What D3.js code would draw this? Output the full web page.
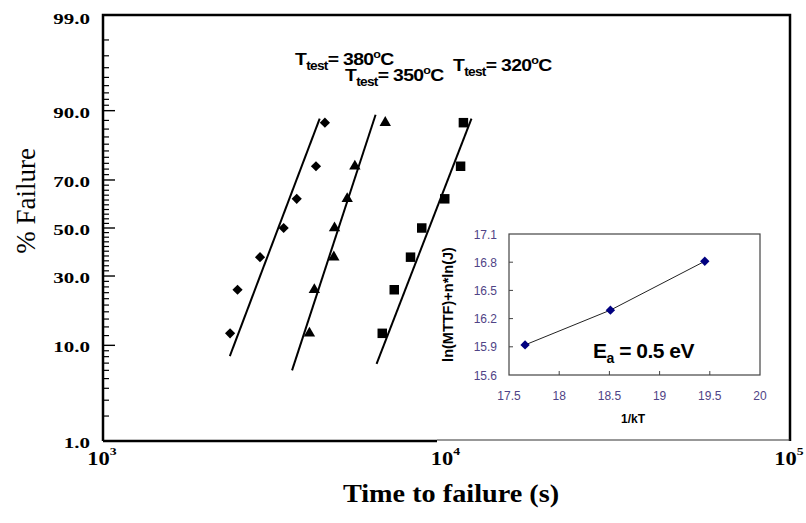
<!DOCTYPE html>
<html>
<head>
<meta charset="utf-8">
<script src="https://cdn.jsdelivr.net/npm/d3@7"></script>
<style>
  body { margin: 0; background: #fff; }
  svg { display: block; }
</style>
</head>
<body>
<div id="chart"></div>
<script>
// ---- main chart data ----
const pctRank = [12.5, 25, 37.5, 50, 62.5, 75, 87.5];
const t380 = [2344, 2464, 2865, 3357, 3664, 4169, 4426];
const t350 = [3990, 4123, 4699, 4721, 5140, 5410, 6633];
const t320 = [6501, 7045, 7857, 8472, 9883, 10990, 11200];

// fitted lines: [time, % failure] end points
const fit380 = [[2340, 8.1], [4274, 88.4]];
const fit350 = [[3551, 6.0], [6217, 89.2]];
const fit320 = [[6258, 6.9], [11823, 88.4]];

const yTickVals = [1, 10, 30, 50, 70, 90, 99];
const yTickLabels = ["1.0", "10.0", "30.0", "50.0", "70.0", "90.0", "99.0"];
const yMinorVals = [2, 3, 4, 5, 6, 7, 8, 9,
  12, 14, 16, 18, 20, 22, 24, 26, 28, 32, 34, 36, 38, 40, 42, 44, 46, 48,
  52, 54, 56, 58, 60, 62, 64, 66, 68, 72, 74, 76, 78, 80, 82, 84, 86, 88,
  91, 92, 93, 94, 95, 96, 97, 98];
const xTickVals = [1e3, 1e4, 1e5];
const xTickExp = ["3", "4", "5"];

// ---- inset data ----
const invKT = [17.66, 18.51, 19.45];
const lnMTTF = [15.92, 16.29, 16.81];
const insetXTicks = [17.5, 18, 18.5, 19, 19.5, 20];
const insetYTicks = [15.6, 15.9, 16.2, 16.5, 16.8, 17.1];

// inverse normal cdf (Acklam) for the probability axis
function probit(p) {
    const a = [-3.969683028665376e+01, 2.209460984245205e+02, -2.759285104469687e+02, 1.383577518672690e+02, -3.066479806614716e+01, 2.506628277459239e+00];
    const b = [-5.447609879822406e+01, 1.615858368580409e+02, -1.556989798598866e+02, 6.680131188771972e+01, -1.328068155288572e+01];
    const c = [-7.784894002430293e-03, -3.223964580411365e-01, -2.400758277161838e+00, -2.549732539343734e+00, 4.374664141464968e+00, 2.938163982698783e+00];
    const d = [7.784695709041462e-03, 3.224671290700398e-01, 2.445134137142996e+00, 3.754408661907416e+00];
    const pl = 0.02425;
    let q, r;
    if (p < pl) {
        q = Math.sqrt(-2 * Math.log(p));
        return (((((c[0]*q+c[1])*q+c[2])*q+c[3])*q+c[4])*q+c[5]) / ((((d[0]*q+d[1])*q+d[2])*q+d[3])*q+1);
    }
    if (p > 1 - pl) {
        q = Math.sqrt(-2 * Math.log(1 - p));
        return -(((((c[0]*q+c[1])*q+c[2])*q+c[3])*q+c[4])*q+c[5]) / ((((d[0]*q+d[1])*q+d[2])*q+d[3])*q+1);
    }
    q = p - 0.5; r = q * q;
    return (((((a[0]*r+a[1])*r+a[2])*r+a[3])*r+a[4])*r+a[5])*q / (((((b[0]*r+b[1])*r+b[2])*r+b[3])*r+b[4])*r+1);
}

const width = 806, height = 523;
const svg = d3.select("#chart").append("svg")
    .attr("width", width)
    .attr("height", height);

const pLeft = 103, pRight = 790, pTop = 15, pBottom = 441;

const xScale = d3.scaleLog().domain([1e3, 1e5]).range([pLeft, pRight]);
const zScale = d3.scaleLinear().domain([probit(0.01), probit(0.99)]).range([pBottom, pTop]);
const yScale = p => zScale(probit(p / 100));

const serif = "'Liberation Serif', 'Times New Roman', serif";
const sans = "'Liberation Sans', Arial, sans-serif";

// frame
svg.append("path")
    .attr("d", `M${pLeft},${pBottom}V${pTop}H${pRight}V${pBottom}`)
    .attr("fill", "none").attr("stroke", "#000").attr("stroke-width", 2.5);
svg.append("line")
    .attr("x1", pLeft).attr("x2", 437).attr("y1", pBottom).attr("y2", pBottom)
    .attr("stroke", "#000").attr("stroke-width", 2.5);
svg.append("line")
    .attr("x1", 437).attr("x2", pRight).attr("y1", pBottom - 1).attr("y2", pBottom - 1)
    .attr("stroke", "#333").attr("stroke-width", 1.2);

// y ticks (inward)
svg.append("g").selectAll("line.minor")
    .data(yMinorVals).enter().append("line")
    .attr("x1", pLeft).attr("x2", pLeft + 6)
    .attr("y1", d => yScale(d)).attr("y2", d => yScale(d))
    .attr("stroke", "#000").attr("stroke-width", 1.2);
svg.append("g").selectAll("line.major")
    .data(yTickVals.filter(v => v > 1 && v < 99)).enter().append("line")
    .attr("x1", pLeft).attr("x2", pLeft + 12)
    .attr("y1", d => yScale(d)).attr("y2", d => yScale(d))
    .attr("stroke", "#000").attr("stroke-width", 1.4);

svg.append("g").selectAll("g")
    .data(yTickVals).enter().append("g")
    .attr("transform", (d, i) => `translate(90, ${yScale(d) + (d === 99 ? 9 : 7)}) scale(1.4,1)`)
    .append("text")
    .attr("text-anchor", "end")
    .style("font-family", serif).style("font-weight", "bold").style("font-size", "15px")
    .text((d, i) => yTickLabels[i]);

// x tick labels
const xLab = svg.append("g").selectAll("g")
    .data(xTickVals).enter().append("g")
    .attr("transform", d => `translate(${xScale(d) - 1}, 465) scale(1.25,1)`)
    .append("text")
    .attr("text-anchor", "middle")
    .style("font-family", serif).style("font-weight", "bold").style("font-size", "18px");
xLab.append("tspan").text("10");
xLab.append("tspan").attr("dy", -10).style("font-size", "11px").text((d, i) => xTickExp[i]);

// axis titles
svg.append("g").attr("transform", "translate(451, 502) scale(1.13,1)")
    .append("text").attr("text-anchor", "middle")
    .style("font-family", serif).style("font-weight", "bold").style("font-size", "25px")
    .text("Time to failure (s)");
svg.append("text")
    .attr("transform", "translate(35, 201) rotate(-90)")
    .attr("text-anchor", "middle")
    .style("font-family", serif).style("font-size", "27px")
    .text("% Failure");

// fit lines
const series = [
    {times: t380, fit: fit380, shape: "diamond"},
    {times: t350, fit: fit350, shape: "triangle"},
    {times: t320, fit: fit320, shape: "square"}
];
series.forEach(s => {
    svg.append("line")
        .attr("x1", xScale(s.fit[0][0])).attr("y1", yScale(s.fit[0][1]))
        .attr("x2", xScale(s.fit[1][0])).attr("y2", yScale(s.fit[1][1]))
        .attr("stroke", "#000").attr("stroke-width", 2);
});

const symDiamond = d3.symbol().type(d3.symbolSquare).size(52)();
const symTriangle = d3.symbol().type(d3.symbolTriangle).size(56)();
const symSquare = d3.symbol().type(d3.symbolSquare).size(90)();

series.forEach(s => {
    const path = s.shape === "diamond" ? symDiamond : s.shape === "triangle" ? symTriangle : symSquare;
    svg.append("g").selectAll("path")
        .data(s.times).enter().append("path")
        .attr("d", path)
        .attr("transform", (d, i) => `translate(${xScale(d)}, ${yScale(pctRank[i])})` + (s.shape === "diamond" ? " rotate(45)" : ""))
        .attr("fill", "#000");
});

// temperature labels
const tempLabels = [
    {temp: "380", x: 295, y: 65},
    {temp: "350", x: 345, y: 81},
    {temp: "320", x: 453, y: 71}
];
tempLabels.forEach(l => {
    const t = svg.append("g").attr("transform", `translate(${l.x}, ${l.y}) scale(1.14,1)`)
        .append("text")
        .style("font-family", sans).style("font-weight", "bold").style("font-size", "17px")
        .style("letter-spacing", "-0.6px");
    t.append("tspan").text("T");
    t.append("tspan").attr("dy", 5).style("font-size", "12px").text("test");
    t.append("tspan").attr("dy", -5).text("= " + l.temp);
    t.append("tspan").attr("dy", -7).style("font-size", "11px").text("o");
    t.append("tspan").attr("dy", 7).text("C");
});

// ---- inset ----
const ix = d3.scaleLinear().domain([17.5, 20]).range([509, 760]);
const iy = d3.scaleLinear().domain([15.6, 17.1]).range([375, 234]);
const tickColor = "#4f4386";

svg.append("rect")
    .attr("x", ix.range()[0]).attr("y", iy.range()[1])
    .attr("width", ix.range()[1] - ix.range()[0]).attr("height", iy.range()[0] - iy.range()[1])
    .attr("fill", "none").attr("stroke", "#444").attr("stroke-width", 1.2);

svg.append("g").selectAll("line")
    .data(insetXTicks.slice(1, -1)).enter().append("line")
    .attr("x1", d => ix(d)).attr("x2", d => ix(d))
    .attr("y1", iy.range()[0]).attr("y2", iy.range()[0] - 4)
    .attr("stroke", "#444");
svg.append("g").selectAll("line")
    .data(insetYTicks.slice(1, -1)).enter().append("line")
    .attr("x1", ix.range()[0]).attr("x2", ix.range()[0] + 4)
    .attr("y1", d => iy(d)).attr("y2", d => iy(d))
    .attr("stroke", "#444");

svg.append("g").selectAll("text")
    .data(insetXTicks).enter().append("text")
    .attr("x", d => ix(d)).attr("y", 400)
    .attr("text-anchor", "middle")
    .attr("fill", tickColor)
    .style("font-family", sans).style("font-size", "12px")
    .text(d => d);
svg.append("g").selectAll("text")
    .data(insetYTicks).enter().append("text")
    .attr("x", 497).attr("y", d => iy(d) + 4.5)
    .attr("text-anchor", "end")
    .attr("fill", tickColor)
    .style("font-family", sans).style("font-size", "12px")
    .text(d => d.toFixed(1));

svg.append("text")
    .attr("x", 633).attr("y", 423)
    .attr("text-anchor", "middle")
    .style("font-family", sans).style("font-weight", "bold").style("font-size", "12px")
    .text("1/kT");
svg.append("text")
    .attr("transform", `translate(453, ${(iy.range()[0] + iy.range()[1]) / 2}) rotate(-90)`)
    .attr("text-anchor", "middle")
    .style("font-family", sans).style("font-weight", "bold").style("font-size", "14.5px")
    .text("ln(MTTF)+n*ln(J)");

const insetLine = d3.line().x((d, i) => ix(invKT[i])).y(d => iy(d));
svg.append("path")
    .attr("d", insetLine(lnMTTF))
    .attr("fill", "none").attr("stroke", "#222").attr("stroke-width", 1);

svg.append("g").selectAll("path")
    .data(lnMTTF).enter().append("path")
    .attr("d", d3.symbol().type(d3.symbolSquare).size(44)())
    .attr("transform", (d, i) => `translate(${ix(invKT[i])}, ${iy(d)}) rotate(45)`)
    .attr("fill", "#000080");

const ea = svg.append("text")
    .attr("x", 593).attr("y", 358)
    .style("font-family", sans).style("font-weight", "bold").style("font-size", "21px")
    .style("letter-spacing", "-0.5px");
ea.append("tspan").text("E");
ea.append("tspan").attr("dy", 5).style("font-size", "14px").text("a");
ea.append("tspan").attr("dy", -5).text(" = 0.5 eV");
</script>
</body>
</html>
